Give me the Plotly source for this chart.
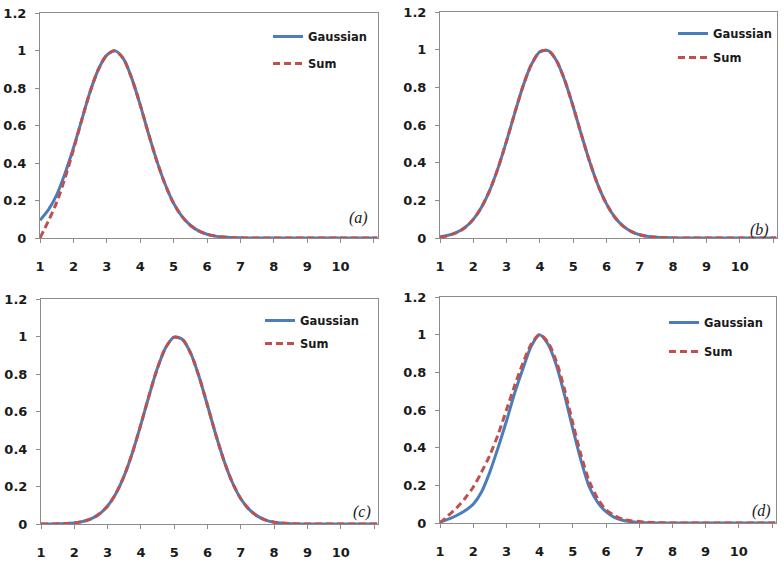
import plotly.graph_objects as go

# ---------------- data ----------------
X = [1.0, 1.25, 1.5, 1.75, 2.0, 2.25, 2.5, 2.75, 3.0, 3.25, 3.5, 3.75, 4.0,
     4.25, 4.5, 4.75, 5.0, 5.25, 5.5, 5.75, 6.0, 6.25, 6.5, 6.75, 7.0, 7.25,
     7.5, 7.75, 8.0, 8.5, 9.0, 10.0, 11.1]

gauss_a = [0.095, 0.15, 0.23, 0.345, 0.48, 0.63, 0.78, 0.90, 0.975, 0.998, 0.955,
           0.85, 0.71, 0.555, 0.41, 0.285, 0.185, 0.115, 0.068, 0.038, 0.02, 0.01,
           0.005, 0.002, 0.001, 0, 0, 0, 0, 0, 0, 0, 0]
sum_a = [0.0, 0.09, 0.19, 0.32, 0.47, 0.63, 0.78, 0.90, 0.975, 0.998, 0.955,
         0.85, 0.71, 0.555, 0.41, 0.285, 0.185, 0.115, 0.068, 0.038, 0.02, 0.01,
         0.005, 0.002, 0.001, 0, 0, 0, 0, 0, 0, 0, 0]

gauss_b = [0.007, 0.015, 0.03, 0.056, 0.099, 0.165, 0.256, 0.375, 0.516, 0.667,
           0.81, 0.923, 0.989, 0.995, 0.941, 0.835, 0.697, 0.546, 0.402, 0.278,
           0.181, 0.11, 0.063, 0.034, 0.017, 0.008, 0.004, 0.0015, 0.0006, 0, 0, 0, 0]
sum_b = [0.002, 0.013, 0.028, 0.055, 0.099, 0.165, 0.256, 0.375, 0.516, 0.667,
         0.81, 0.923, 0.989, 0.995, 0.941, 0.835, 0.697, 0.546, 0.402, 0.278,
         0.181, 0.11, 0.063, 0.034, 0.017, 0.008, 0.004, 0.0015, 0.0006, 0, 0, 0, 0]

gauss_c = [0.0001, 0.0003, 0.001, 0.0024, 0.0058, 0.013, 0.027, 0.053, 0.096,
           0.163, 0.258, 0.383, 0.531, 0.688, 0.833, 0.943, 0.997, 0.984, 0.909,
           0.784, 0.632, 0.476, 0.335, 0.22, 0.135, 0.078, 0.042, 0.021, 0.0098,
           0.0018, 0.0002, 0, 0]
sum_c = [0.0001, 0.0003, 0.001, 0.0024, 0.0058, 0.013, 0.027, 0.053, 0.096,
         0.163, 0.258, 0.383, 0.531, 0.688, 0.833, 0.943, 0.997, 0.984, 0.909,
         0.784, 0.632, 0.476, 0.335, 0.22, 0.135, 0.078, 0.042, 0.021, 0.0098,
         0.0018, 0.0002, 0, 0]

gauss_d = [0.005, 0.02, 0.04, 0.065, 0.10, 0.165, 0.27, 0.40, 0.54, 0.69, 0.82,
           0.94, 1.0, 0.95, 0.84, 0.68, 0.50, 0.33, 0.19, 0.11, 0.06, 0.03, 0.015,
           0.007, 0.003, 0.001, 0, 0, 0, 0, 0, 0, 0]
sum_d = [0.0, 0.04, 0.08, 0.13, 0.19, 0.27, 0.36, 0.47, 0.60, 0.73, 0.85, 0.95,
         1.0, 0.96, 0.86, 0.71, 0.53, 0.36, 0.22, 0.13, 0.07, 0.04, 0.02, 0.012,
         0.008, 0.004, 0.002, 0.001, 0, 0, 0, 0, 0]

PANEL_LABELS = ["(a)", "(b)", "(c)", "(d)"]
SERIES_NAMES = ["Gaussian", "Sum"]
X_TICKVALS = [1, 2, 3, 4, 5, 6, 7, 8, 9, 10, 11]
X_TICKTEXT = ["1", "2", "3", "4", "5", "6", "7", "8", "9", "10", ""]
Y_TICKVALS = [0, 0.2, 0.4, 0.6, 0.8, 1.0, 1.2]

panels = [(gauss_a, sum_a), (gauss_b, sum_b), (gauss_c, sum_c), (gauss_d, sum_d)]

# ---------------- layout geometry (pixels) ----------------
W, H = 784, 562
# (left, right, top, bottom) of plot areas
boxes = [(40, 378, 13, 238), (440, 777, 12, 238), (41, 378, 299, 524), (440, 776, 297, 523)]
# legend left/top and group gap
legpos = [(268, 22, 8), (673, 19, 5), (260, 306, 4), (664, 308, 10)]
# panel label centre
labpos = [(358, 218), (759, 230), (362, 512), (761, 511)]

BLUE = "#4a7ebb"
RED = "#c0504d"
AXIS = "#8c8c8c"
FONT = dict(family="DejaVu Sans", size=13, color="#1a1a1a", weight="bold")

fig = go.Figure()
layout = dict(width=W, height=H, margin=dict(l=0, r=0, t=0, b=0),
              paper_bgcolor="white", plot_bgcolor="white", showlegend=True)
annotations = []

for i, ((g, s), (l, r, t, b)) in enumerate(zip(panels, boxes)):
    k = "" if i == 0 else str(i + 1)
    lg = "legend" if i == 0 else "legend" + str(i + 1)
    fig.add_trace(go.Scatter(x=X, y=g, mode="lines", name=SERIES_NAMES[0],
                             line=dict(color=BLUE, width=3, shape="spline", smoothing=0.8),
                             xaxis="x" + k, yaxis="y" + k, legend=lg,
                             legendgroup="g" + str(i)))
    fig.add_trace(go.Scatter(x=X, y=s, mode="lines", name=SERIES_NAMES[1],
                             line=dict(color=RED, width=3, dash="7px,4px", shape="spline", smoothing=0.8),
                             xaxis="x" + k, yaxis="y" + k, legend=lg,
                             legendgroup="s" + str(i)))
    layout["xaxis" + k] = dict(domain=[l / W, r / W], anchor="y" + k, range=[1, 11.12],
                               tickvals=X_TICKVALS, ticktext=X_TICKTEXT, showgrid=False,
                               zeroline=False, showline=True, linecolor=AXIS, linewidth=1,
                               mirror=True, ticks="outside", ticklen=4, tickcolor=AXIS,
                               tickfont=FONT, ticklabelstandoff=12, automargin=False)
    layout["yaxis" + k] = dict(domain=[1 - b / H, 1 - t / H], anchor="x" + k, range=[0, 1.2],
                               tickvals=Y_TICKVALS, showgrid=False, zeroline=False,
                               showline=True, linecolor=AXIS, linewidth=1, mirror=True,
                               ticks="outside", ticklen=4, tickcolor=AXIS, tickfont=FONT,
                               ticklabelstandoff=6, automargin=False)
    lx, ly, gap = legpos[i]
    layout[lg] = dict(x=lx / W, y=1 - ly / H, xanchor="left", yanchor="top",
                      bgcolor="rgba(0,0,0,0)", borderwidth=0, traceorder="grouped",
                      tracegroupgap=gap,
                      font=dict(family="DejaVu Sans", size=11.5, color="#1a1a1a", weight="bold"))
    ax, ay = labpos[i]
    annotations.append(dict(x=ax / W, y=1 - ay / H, xref="paper", yref="paper",
                            text=PANEL_LABELS[i], showarrow=False, xanchor="center",
                            yanchor="middle",
                            font=dict(family="Liberation Serif", size=16, color="#1a1a1a",
                                      style="italic")))

layout["annotations"] = annotations
fig.update_layout(**layout)
fig.write_html("out.html", config={"displayModeBar": False},
               post_script="document.body.style.margin='0px';document.body.style.overflow='hidden';")
